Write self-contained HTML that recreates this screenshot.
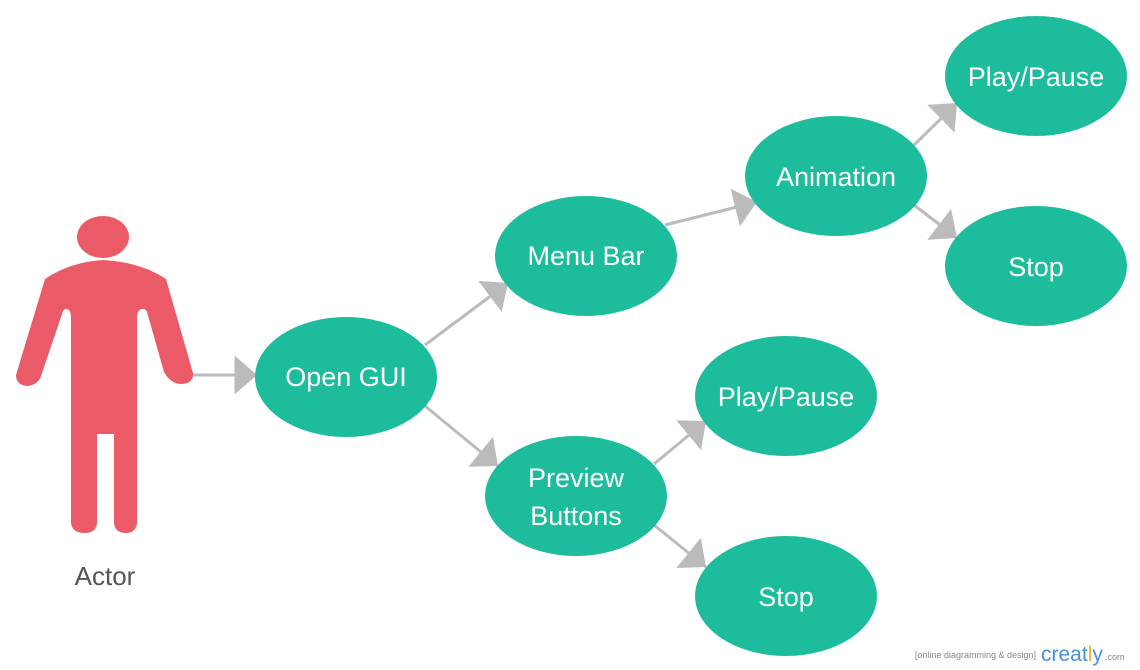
<!DOCTYPE html>
<html><head><style>
body{margin:0;background:#fff;}
svg{display:block;}
text{font-family:"Liberation Sans",sans-serif;}
</style></head><body>
<svg width="1140" height="670" viewBox="0 0 1140 670" xmlns="http://www.w3.org/2000/svg">
<defs>
<marker id="a" markerWidth="8" markerHeight="13" refX="7.5" refY="6.5" orient="auto" markerUnits="strokeWidth">
<path d="M0,0 L7.5,6.5 L0,13 Z" fill="#bbb"/>
</marker>
</defs>
<g fill="#eb5b67">
<ellipse cx="103" cy="237" rx="26" ry="21"/>
<path d="M45,279 Q70,262 103,260 Q140,262 166,279 L193,373 Q194,384 180,384 Q170,383 164,372 L147,312 Q145,308 141,309 Q137,311 137,318 L137,523 Q136,533 126,533 Q115,533 114,523 L114,434 L97,434 L97,523 Q96,533 85,533 Q72,533 71,523 L71,318 Q71,309 66,309 Q63,309 62,314 L41,376 Q38,385 27,386 Q16,385 16,375 Z"/>
</g>
<text x="105" y="585" font-size="26" fill="#555" text-anchor="middle">Actor</text>
<g stroke="#bbb" stroke-width="3" fill="none" marker-end="url(#a)">
<line x1="193" y1="375" x2="257" y2="375"/>
<line x1="425" y1="345" x2="508" y2="283"/>
<line x1="425" y1="406" x2="498" y2="466"/>
<line x1="665" y1="225" x2="757" y2="202"/>
<line x1="914" y1="145" x2="957" y2="103"/>
<line x1="914" y1="205" x2="957" y2="238"/>
<line x1="654" y1="464" x2="706" y2="421"/>
<line x1="654" y1="525" x2="706" y2="567"/>
</g>
<g fill="#1dbc9c">
<ellipse cx="346" cy="377" rx="91" ry="60"/>
<ellipse cx="586" cy="256" rx="91" ry="60"/>
<ellipse cx="836" cy="176" rx="91" ry="60"/>
<ellipse cx="1036" cy="76" rx="91" ry="60"/>
<ellipse cx="1036" cy="266" rx="91" ry="60"/>
<ellipse cx="786" cy="396" rx="91" ry="60"/>
<ellipse cx="576" cy="496" rx="91" ry="60"/>
<ellipse cx="786" cy="596" rx="91" ry="60"/>
</g>
<g fill="#fff" font-size="27" text-anchor="middle">
<text x="346" y="386">Open GUI</text>
<text x="586" y="265">Menu Bar</text>
<text x="836" y="186">Animation</text>
<text x="1036" y="86">Play/Pause</text>
<text x="1036" y="276">Stop</text>
<text x="786" y="406">Play/Pause</text>
<text x="576" y="487">Preview</text>
<text x="576" y="525">Buttons</text>
<text x="786" y="606">Stop</text>
</g>
<text x="1036" y="658" font-size="9" fill="#888" text-anchor="end">[online diagramming &amp; design]</text>
<text x="1041" y="661" font-size="21" fill="#4a90d9">creat<tspan fill="#f0b030">l</tspan>y</text>
<text x="1105" y="660" font-size="9" fill="#888">.com</text>
</svg>
</body></html>
